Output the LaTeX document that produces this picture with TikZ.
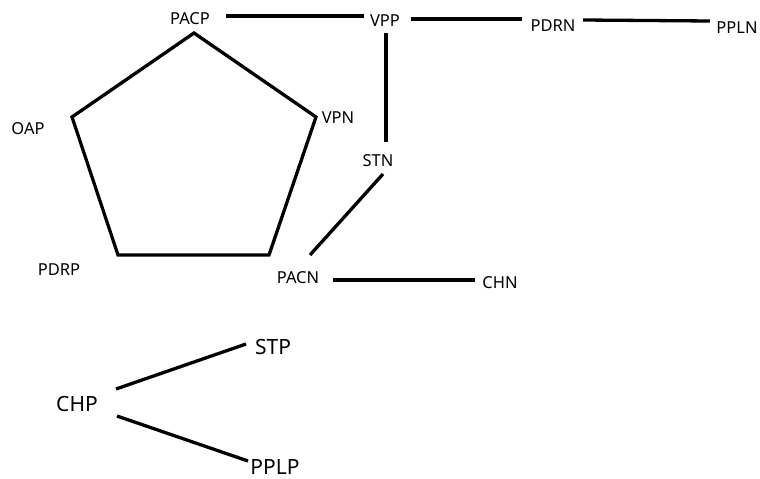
\documentclass[tikz,border=0pt]{standalone}
\usepackage{fontspec}
\setmainfont{Noto Sans}
\begin{document}
\begin{tikzpicture}[x=1pt,y=-1pt,
  lbl/.style={font=\fontsize{16.5}{16.5}\selectfont,inner sep=0pt},
  big/.style={font=\fontsize{21}{21}\selectfont,inner sep=0pt},
  conn/.style={draw=black,line width=3.3pt}]
\useasboundingbox (0,0) rectangle (760,479);
% pentagon
\draw[line width=3.3pt,line join=miter] (194,33) -- (316,117) -- (269,255) -- (118,255) -- (72,117) -- cycle;
% labels
\node[lbl] (pacp) at (190,19) {PACP};
\node[lbl] (vpp) at (385,21) {VPP};
\node[lbl] (pdrn) at (553,26) {PDRN};
\node[lbl] (ppln) at (737,28) {PPLN};
\node[lbl] (vpn) at (338,118) {VPN};
\node[lbl] (oap) at (28,129) {OAP};
\node[lbl] (stn) at (378,161) {STN};
\node[lbl] (pdrp) at (59,270) {PDRP};
\node[lbl] (pacn) at (298,278) {PACN};
\node[lbl] (chn) at (500,283) {CHN};
\node[big] (chp) at (77,404) {CHP};
\node[big] (stp) at (273,347) {STP};
\node[big] (pplp) at (275,467) {PPLP};
% connectors
\draw[conn] ([shift={(36,-3)}]pacp.center) -- ([shift={(-21,-5)}]vpp.center);
\draw[conn] ([shift={(26,-2)}]vpp.center) -- ([shift={(-31,-7)}]pdrn.center);
\draw[conn] ([shift={(30,-6)}]pdrn.center) -- ([shift={(-27,-7)}]ppln.center);
\draw[conn] ([shift={(1,12)}]vpp.center) -- ([shift={(8,-19)}]stn.center);
\draw[conn] ([shift={(5,13)}]stn.center) -- ([shift={(12,-23)}]pacn.center);
\draw[conn] ([shift={(35,2)}]pacn.center) -- ([shift={(-25,-3)}]chn.center);
\draw[conn] ([shift={(39,-15)}]chp.center) -- ([shift={(-27,-3)}]stp.center);
\draw[conn] ([shift={(40,12)}]chp.center) -- ([shift={(-27,-6)}]pplp.center);
\end{tikzpicture}
\end{document}
